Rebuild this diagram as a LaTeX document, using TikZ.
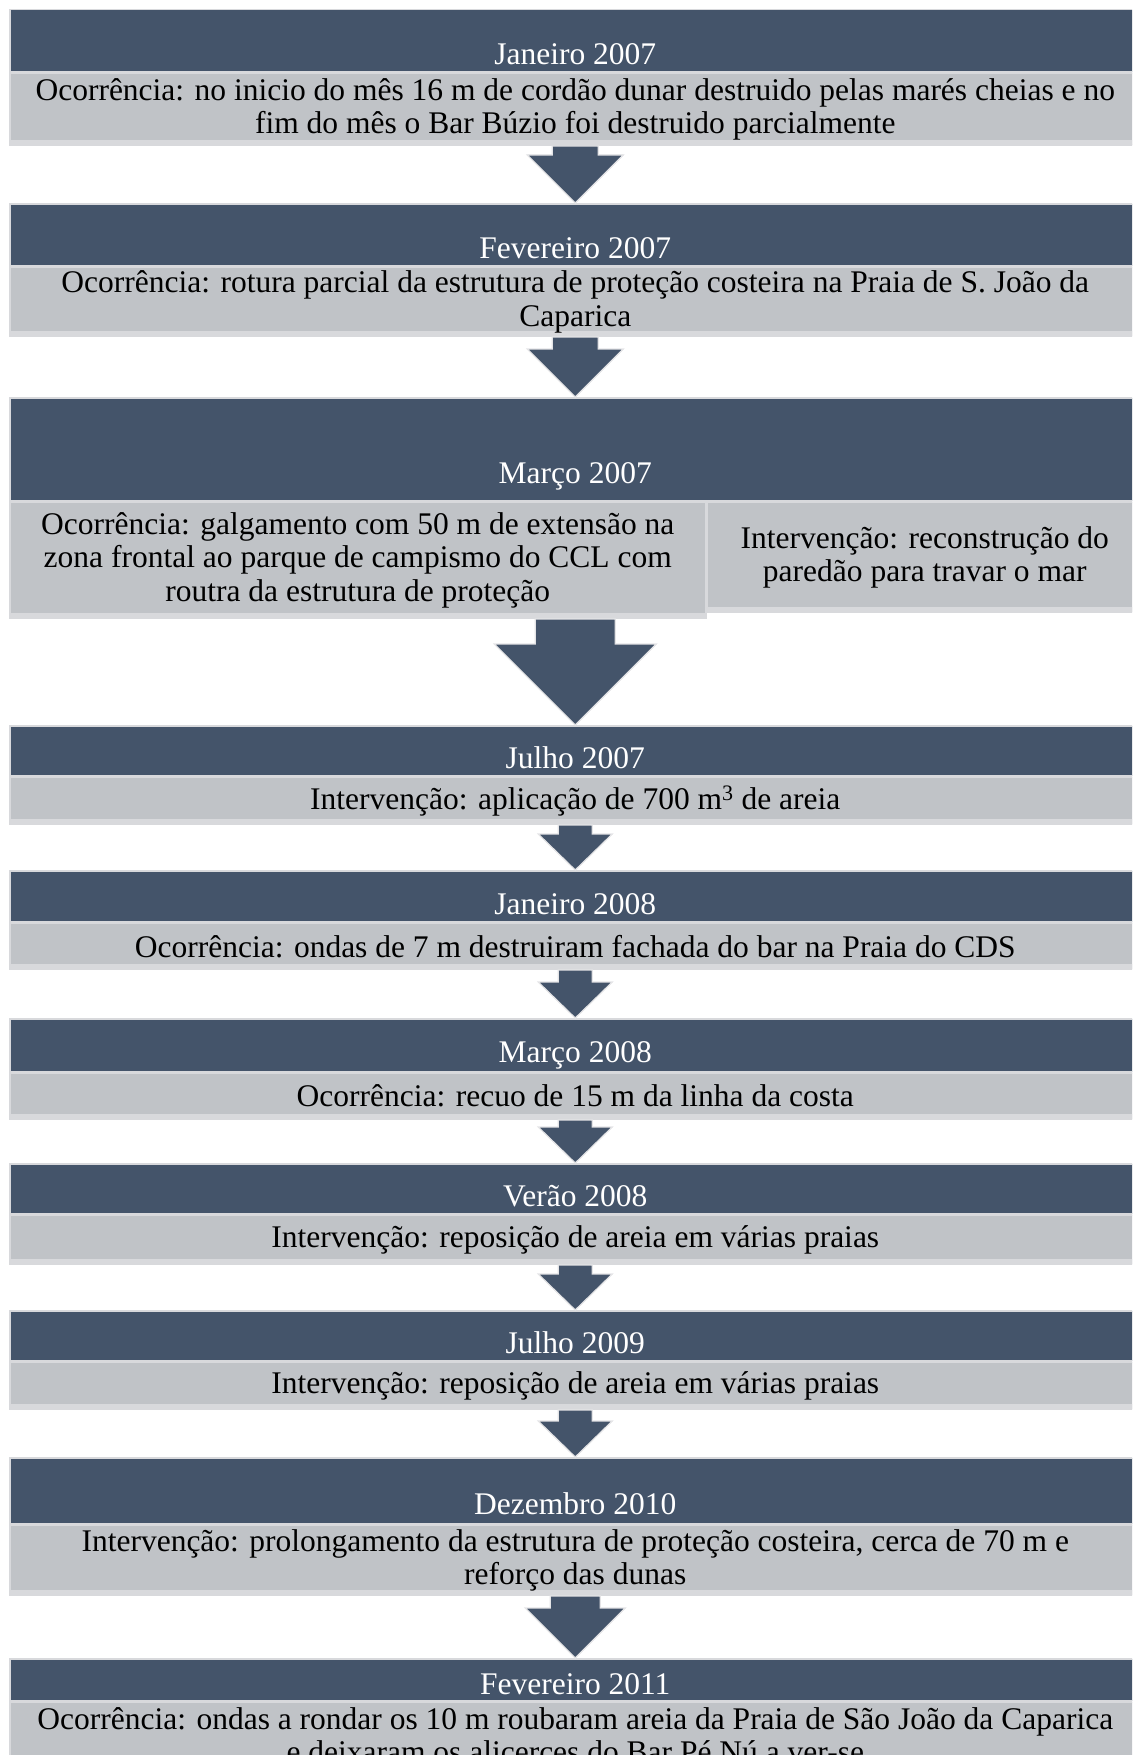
\documentclass[tikz,border=0pt]{standalone}
\usepackage{fontspec}
\setmainfont{Liberation Serif}
\usepackage{tikz}
\usetikzlibrary{calc,positioning}

\definecolor{hdrblue}{HTML}{44546A}
\definecolor{boxgray}{HTML}{C0C3C7}
\definecolor{rimgray}{HTML}{D8D9DC}

\begin{document}
\begin{tikzpicture}[x=1pt,y=-1pt,
  hdr/.style={rectangle, fill=hdrblue, draw=rimgray, line width=1.5pt, minimum width=1131pt, inner sep=0pt, anchor=north west},
  hdrtxt/.style={text=white, font=\fontsize{31.5}{33.6}\selectfont, anchor=base, inner sep=0pt},
  body/.style={rectangle, fill=boxgray, draw=rimgray, line width=1.5pt, minimum width=1131pt, inner sep=0pt, anchor=north west, align=center, font=\fontsize{31.5}{33.6}\selectfont,
    path picture={\fill[rimgray] ([yshift=5pt]path picture bounding box.south west) rectangle (path picture bounding box.south east);}},
  flow/.style={fill=hdrblue, draw=rimgray!70!white, line width=1.2pt, line join=miter}]
\useasboundingbox (0,0) rectangle (1132,1755);
\clip (0,0) rectangle (1132,1755);

% Janeiro 2007
\node[hdr, minimum height=62pt] (jan07) at (9,9) {};
\node[body, minimum height=72pt] (jan07b) at (jan07.south west) {Ocorrência: no inicio do mês 16 m de cordão dunar destruido pelas marés cheias e no\\ fim do mês o Bar Búzio foi destruido parcialmente};
\node[hdrtxt] (jan07l) at ([yshift=8pt]jan07.south) {Janeiro 2007};

% Fevereiro 2007
\node[hdr, minimum height=62pt] (fev07) at (9,203) {};
\node[body, minimum height=69pt] (fev07b) at (fev07.south west) {Ocorrência: rotura parcial da estrutura de proteção costeira na Praia de S. João da\\ Caparica};
\node[hdrtxt] (fev07l) at ([yshift=8pt]fev07.south) {Fevereiro 2007};

% Marco 2007
\node[hdr, minimum height=103pt] (mar07) at (9,397) {};
\node[body, minimum width=696pt, minimum height=116pt] (mar07bl) at (mar07.south west) {Ocorrência: galgamento com 50 m de extensão na\\ zona frontal ao parque de campismo do CCL com\\ routra da estrutura de proteção};
\node[body, minimum width=435pt, minimum height=110pt] (mar07br) at (mar07bl.north east) {Intervenção: reconstrução do\\ paredão para travar o mar};
\node[hdrtxt] (mar07l) at ([yshift=18pt]mar07.south) {Março 2007};

% Julho 2007
\node[hdr, minimum height=50pt] (jul07) at (9,725) {};
\node[body, minimum height=47pt] (jul07b) at (jul07.south west) {Intervenção: aplicação de 700 m\textsuperscript{3} de areia};
\node[hdrtxt] (jul07l) at ([yshift=8pt]jul07.south) {Julho 2007};

% Janeiro 2008
\node[hdr, minimum height=51pt] (jan08) at (9,870) {};
\node[body, minimum height=46pt] (jan08b) at (jan08.south west) {Ocorrência: ondas de 7 m destruiram fachada do bar na Praia do CDS};
\node[hdrtxt] (jan08l) at ([yshift=8pt]jan08.south) {Janeiro 2008};

% Marco 2008
\node[hdr, minimum height=53pt] (mar08) at (9,1018) {};
\node[body, minimum height=46pt] (mar08b) at (mar08.south west) {Ocorrência: recuo de 15 m da linha da costa};
\node[hdrtxt] (mar08l) at ([yshift=10pt]mar08.south) {Março 2008};

% Verao 2008
\node[hdr, minimum height=50pt] (ver08) at (9,1163) {};
\node[body, minimum height=49pt] (ver08b) at (ver08.south west) {Intervenção: reposição de areia em várias praias};
\node[hdrtxt] (ver08l) at ([yshift=8pt]ver08.south) {Verão 2008};

% Julho 2009
\node[hdr, minimum height=50pt] (jul09) at (9,1310) {};
\node[body, minimum height=47pt] (jul09b) at (jul09.south west) {Intervenção: reposição de areia em várias praias};
\node[hdrtxt] (jul09l) at ([yshift=8pt]jul09.south) {Julho 2009};

% Dezembro 2010
\node[hdr, minimum height=66pt] (dez10) at (9,1457) {};
\node[body, minimum height=70pt] (dez10b) at (dez10.south west) {Intervenção: prolongamento da estrutura de proteção costeira, cerca de 70 m e\\ reforço das dunas};
\node[hdrtxt] (dez10l) at ([yshift=10pt]dez10.south) {Dezembro 2010};

% Fevereiro 2011
\node[hdr, minimum height=42pt] (fev11) at (9,1658) {};
\node[body, minimum height=66pt] (fev11b) at (fev11.south west) {Ocorrência: ondas a rondar os 10 m roubaram areia da Praia de São João da Caparica\\ e deixaram os alicerces do Bar Pé Nú a ver-se};
\node[hdrtxt] (fev11l) at ([yshift=7pt]fev11.south) {Fevereiro 2011};

% arrows
\draw[flow] let \p1=(jan07b.south), \p2=(fev07.north) in ({\x2-23pt},\y1) -- ({\x2-23pt},{\y2+48pt}) -- ({\x2-48pt},{\y2+48pt}) -- (\x2,\y2) -- ({\x2+48pt},{\y2+48pt}) -- ({\x2+23pt},{\y2+48pt}) -- ({\x2+23pt},\y1) -- cycle;
\draw[flow] let \p1=(fev07b.south), \p2=(mar07.north) in ({\x2-23pt},\y1) -- ({\x2-23pt},{\y2+48pt}) -- ({\x2-48pt},{\y2+48pt}) -- (\x2,\y2) -- ({\x2+48pt},{\y2+48pt}) -- ({\x2+23pt},{\y2+48pt}) -- ({\x2+23pt},\y1) -- cycle;
\draw[flow] let \p1=(mar07bl.south), \p2=(jul07.north) in ({\x2-40pt},\y1) -- ({\x2-40pt},{\y2+81pt}) -- ({\x2-81pt},{\y2+81pt}) -- (\x2,\y2) -- ({\x2+81pt},{\y2+81pt}) -- ({\x2+40pt},{\y2+81pt}) -- ({\x2+40pt},\y1) -- cycle;
\draw[flow] let \p1=(jul07b.south), \p2=(jan08.north) in ({\x2-17pt},\y1) -- ({\x2-17pt},{\y2+36pt}) -- ({\x2-37pt},{\y2+36pt}) -- (\x2,\y2) -- ({\x2+37pt},{\y2+36pt}) -- ({\x2+17pt},{\y2+36pt}) -- ({\x2+17pt},\y1) -- cycle;
\draw[flow] let \p1=(jan08b.south), \p2=(mar08.north) in ({\x2-17pt},\y1) -- ({\x2-17pt},{\y2+36pt}) -- ({\x2-37pt},{\y2+36pt}) -- (\x2,\y2) -- ({\x2+37pt},{\y2+36pt}) -- ({\x2+17pt},{\y2+36pt}) -- ({\x2+17pt},\y1) -- cycle;
\draw[flow] let \p1=(mar08b.south), \p2=(ver08.north) in ({\x2-17pt},\y1) -- ({\x2-17pt},{\y2+36pt}) -- ({\x2-37pt},{\y2+36pt}) -- (\x2,\y2) -- ({\x2+37pt},{\y2+36pt}) -- ({\x2+17pt},{\y2+36pt}) -- ({\x2+17pt},\y1) -- cycle;
\draw[flow] let \p1=(ver08b.south), \p2=(jul09.north) in ({\x2-17pt},\y1) -- ({\x2-17pt},{\y2+36pt}) -- ({\x2-37pt},{\y2+36pt}) -- (\x2,\y2) -- ({\x2+37pt},{\y2+36pt}) -- ({\x2+17pt},{\y2+36pt}) -- ({\x2+17pt},\y1) -- cycle;
\draw[flow] let \p1=(jul09b.south), \p2=(dez10.north) in ({\x2-17pt},\y1) -- ({\x2-17pt},{\y2+36pt}) -- ({\x2-37pt},{\y2+36pt}) -- (\x2,\y2) -- ({\x2+37pt},{\y2+36pt}) -- ({\x2+17pt},{\y2+36pt}) -- ({\x2+17pt},\y1) -- cycle;
\draw[flow] let \p1=(dez10b.south), \p2=(fev11.north) in ({\x2-25pt},\y1) -- ({\x2-25pt},{\y2+50pt}) -- ({\x2-50pt},{\y2+50pt}) -- (\x2,\y2) -- ({\x2+50pt},{\y2+50pt}) -- ({\x2+25pt},{\y2+50pt}) -- ({\x2+25pt},\y1) -- cycle;

\end{tikzpicture}
\end{document}
